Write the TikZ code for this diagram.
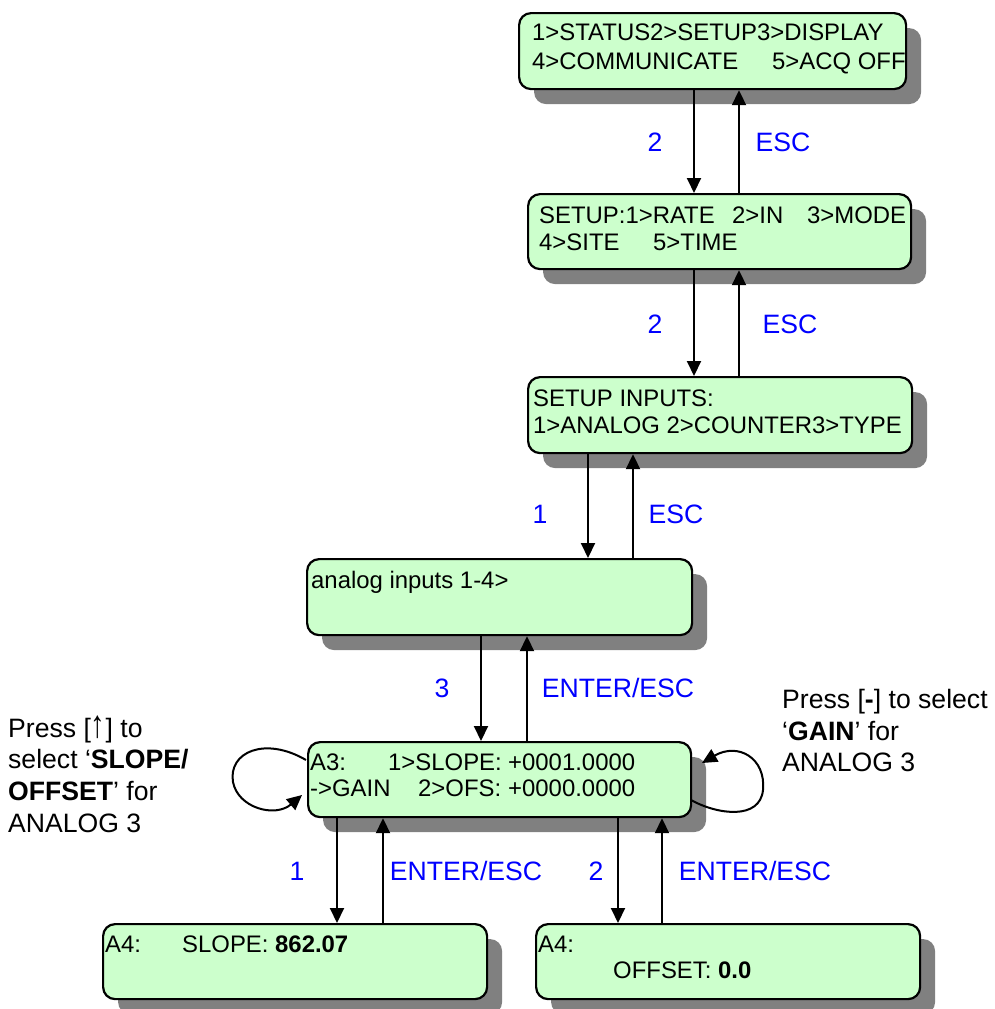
\documentclass[tikz,border=0pt]{standalone}
\usepackage{fontspec}
\setmainfont{Liberation Sans}
\usetikzlibrary{arrows.meta,shadows}
\definecolor{boxgreen}{HTML}{CCFFCC}
\definecolor{shadowgray}{HTML}{808080}
\definecolor{labelblue}{HTML}{0000FF}
\tikzset{
  screen/.style={draw=black, line width=2.2pt, fill=boxgreen, rounded corners=12pt,
    anchor=north west, inner sep=0pt,
    general shadow={fill=shadowgray, shadow xshift=15pt, shadow yshift=-15pt}},
  boxtext/.style={font=\fontsize{23.9pt}{28pt}\selectfont, anchor=base west, inner sep=0pt},
  keylabel/.style={font=\fontsize{26.6pt}{31pt}\selectfont, text=labelblue, inner sep=0pt},
  note/.style={font=\fontsize{26.6pt}{31pt}\selectfont, anchor=base west, inner sep=0pt},
  arr/.style={line width=2pt, -{Triangle[length=15pt,width=14pt]}},
}
\begin{document}
\begin{tikzpicture}[x=1pt,y=-1pt]
\useasboundingbox (0,0) rectangle (994,1009);

% screens
\node[screen, minimum width=387pt, minimum height=76pt] (b1) at (518,12) {};
\node[screen, minimum width=383pt, minimum height=75pt] (b2) at (527,193) {};
\node[screen, minimum width=384pt, minimum height=76pt] (b3) at (527,376) {};
\node[screen, minimum width=385pt, minimum height=76pt] (b4) at (306,558) {};
\node[screen, minimum width=383pt, minimum height=75pt] (b5) at (307,741) {};
\node[screen, minimum width=384pt, minimum height=75pt] (b6) at (102,923) {};
\node[screen, minimum width=384pt, minimum height=75pt] (b7) at (535,923) {};

% screen texts
\node[boxtext] (t1a) at (532,40) {1>STATUS2>SETUP3>DISPLAY};
\node[boxtext] (t1b) at (532,69) {4>COMMUNICATE};
\node[boxtext] (t1c) at (772,69) {5>ACQ OFF};

\node[boxtext] (t2a) at (539,223.5) {SETUP:1>RATE};
\node[boxtext] (t2b) at (732,223.5) {2>IN};
\node[boxtext] (t2c) at (807,223.5) {3>MODE};
\node[boxtext] (t2d) at (539,250.5) {4>SITE};
\node[boxtext] (t2e) at (653,250.5) {5>TIME};

\node[boxtext] (t3a) at (533,406.5) {SETUP INPUTS:};
\node[boxtext] (t3b) at (533,433.5) {1>ANALOG 2>COUNTER3>TYPE};

\node[boxtext] (t4a) at (311,588) {analog inputs 1-4>};

\node[boxtext] (t5a) at (310,770.5) {A3:};
\node[boxtext] (t5b) at (388,770.5) {1>SLOPE:};
\node[boxtext] (t5c) at (508,770.5) {+0001.0000};
\node[boxtext] (t5d) at (310,796.5) {->GAIN};
\node[boxtext] (t5e) at (418,796.5) {2>OFS:};
\node[boxtext] (t5f) at (508,796.5) {+0000.0000};

\node[boxtext] (t6a) at (105,952) {A4:};
\node[boxtext] (t6b) at (182,952) {SLOPE: \textbf{862.07}};

\node[boxtext] (t7a) at (538,952) {A4:};
\node[boxtext] (t7b) at (613,978) {OFFSET: \textbf{0.0}};

% connectors
\draw[arr] (694,0 |- b1.south) -- (694,0 |- b2.north);
\draw[arr] (739,0 |- b2.north) -- (739,0 |- b1.south);
\draw[arr] (694,0 |- b2.south) -- (694,0 |- b3.north);
\draw[arr] (739,0 |- b3.north) -- (739,0 |- b2.south);
\draw[arr] (588,0 |- b3.south) -- (588,0 |- b4.north);
\draw[arr] (633,0 |- b4.north) -- (633,0 |- b3.south);
\draw[arr] (481,0 |- b4.south) -- (481,0 |- b5.north);
\draw[arr] (527,0 |- b5.north) -- (527,0 |- b4.south);
\draw[arr] (337,0 |- b5.south) -- (337,0 |- b6.north);
\draw[arr] (383,0 |- b6.north) -- (383,0 |- b5.south);
\draw[arr] (618,0 |- b5.south) -- (618,0 |- b7.north);
\draw[arr] (662,0 |- b7.north) -- (662,0 |- b5.south);

% self loops
\coordinate (lA) at (306,760);
\coordinate (lB) at (302,795);
\draw[arr] (lA) .. controls (265,736) and (228,752) .. (233,782)
           .. controls (238,808) and (275,818) .. (lB);
\coordinate (rA) at (691,800);
\coordinate (rB) at (702,763);
\draw[arr] (rA) .. controls (718,815) and (760,820) .. (763,790)
           .. controls (766,758) and (738,742) .. (rB);

% key labels
\node[keylabel] (k1) at (655,142) {2};
\node[keylabel] (k2) at (783,142) {ESC};
\node[keylabel] (k3) at (655,324) {2};
\node[keylabel] (k4) at (790,324) {ESC};
\node[keylabel] (k5) at (540,514) {1};
\node[keylabel] (k6) at (676,514) {ESC};
\node[keylabel] (k7) at (442,688) {3};
\node[keylabel] (k8) at (618,688) {ENTER/ESC};
\node[keylabel] (k9) at (297,871) {1};
\node[keylabel] (k10) at (466,871) {ENTER/ESC};
\node[keylabel] (k11) at (596,871) {2};
\node[keylabel] (k12) at (755,871) {ENTER/ESC};

% notes
\node[note] (nl1) at (8,737) {Press [\scalebox{1.1}[1.45]{↑}] to};
\node[note] (nl2) at (8,768) {select `\textbf{SLOPE/}};
\node[note] (nl3) at (8,800) {\textbf{OFFSET}' for};
\node[note] (nl4) at (8,832) {ANALOG 3};

\node[note] (nr1) at (782,708) {Press [\textbf{-}] to select};
\node[note] (nr2) at (782,740) {`\textbf{GAIN}' for};
\node[note] (nr3) at (782,771) {ANALOG 3};
\end{tikzpicture}
\end{document}
